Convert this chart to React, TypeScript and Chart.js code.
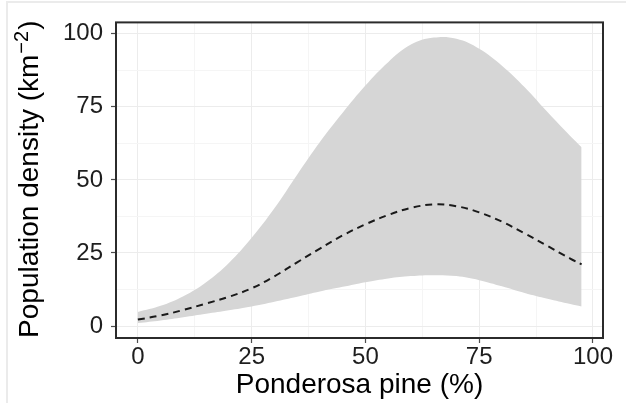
import React, { useEffect, useRef } from 'react';
import { Chart, registerables } from 'chart.js';

Chart.register(...registerables);

// ---- data ----
const pinePct = [0, 5, 10, 15, 20, 25, 30, 35, 40, 45, 50, 55, 60, 65, 70, 75, 80, 85, 90, 95, 97.5];
const upperBound = [4.8, 6.9, 10.2, 15.0, 21.6, 30.2, 40.3, 51.8, 63.0, 73.0, 82.3, 90.3, 96.3, 98.7, 98.3, 94.9, 89.1, 81.7, 73.2, 65.0, 61.2];
const meanDensity = [2.2, 3.6, 5.5, 7.7, 10.0, 12.9, 17.0, 21.8, 26.5, 31.0, 34.8, 38.0, 40.4, 41.6, 41.0, 38.9, 35.7, 31.7, 27.4, 23.1, 21.1];
const lowerBound = [1.0, 1.9, 3.0, 4.2, 5.4, 6.7, 8.3, 10.0, 11.8, 13.4, 15.0, 16.3, 17.1, 17.4, 17.1, 15.7, 13.6, 11.3, 9.3, 7.5, 6.7];

const xTickLabels = [0, 25, 50, 75, 100];
const xMinorTicks = [12.5, 37.5, 62.5, 87.5];
const yTickLabels = [0, 25, 50, 75, 100];
const yMinorTicks = [12.5, 37.5, 62.5, 87.5];

const xTitle = 'Ponderosa pine (%)';
const yTitleMain = 'Population density (km';
const yTitleSup = '\u22122';
const yTitleEnd = ')';

const FONT = '"Liberation Sans", Arial, Helvetica, sans-serif';

const toPoints = (ys: number[]) => pinePct.map((x, i) => ({ x, y: ys[i] }));

const framePlugin = {
  id: 'panelFrame',
  afterDatasetsDraw(chart: any) {
    const { ctx, chartArea } = chart;
    ctx.save();
    ctx.strokeStyle = '#2b2b2b';
    ctx.lineWidth = 2;
    ctx.strokeRect(chartArea.left, chartArea.top, chartArea.right - chartArea.left, chartArea.bottom - chartArea.top);
    ctx.restore();
  },
};

const titlePlugin = {
  id: 'axisTitles',
  afterDraw(chart: any) {
    const { ctx, chartArea } = chart;
    ctx.save();
    ctx.fillStyle = '#000';
    ctx.textBaseline = 'alphabetic';
    // x title
    ctx.font = `28px ${FONT}`;
    ctx.textAlign = 'center';
    ctx.fillText(xTitle, (chartArea.left + chartArea.right) / 2, 392.5);
    // y title with superscript
    const cy = (chartArea.top + chartArea.bottom) / 2;
    ctx.translate(38, cy);
    ctx.rotate(-Math.PI / 2);
    ctx.textAlign = 'left';
    ctx.font = `28px ${FONT}`;
    const w1 = ctx.measureText(yTitleMain).width;
    const w3 = ctx.measureText(yTitleEnd).width;
    ctx.font = `20px ${FONT}`;
    const w2 = ctx.measureText(yTitleSup).width;
    const start = -(w1 + w2 + w3) / 2;
    ctx.font = `28px ${FONT}`;
    ctx.fillText(yTitleMain, start, 0);
    ctx.font = `20px ${FONT}`;
    ctx.fillText(yTitleSup, start + w1 + 1, -10);
    ctx.font = `28px ${FONT}`;
    ctx.fillText(yTitleEnd, start + w1 + w2 + 2, 0);
    ctx.restore();
  },
};

function axisOptions(majors: number[], minors: number[], min: number, max: number, isX: boolean) {
  const all = [...majors, ...minors].sort((a, b) => a - b);
  return {
    type: 'linear' as const,
    min,
    max,
    afterFit(scale: any) {
      if (isX) scale.height = 65;
      else scale.width = 116;
    },
    afterBuildTicks(scale: any) {
      scale.ticks = all.map((v) => ({ value: v }));
    },
    border: { display: false },
    grid: {
      color: (c: any) => (c.tick && majors.includes(c.tick.value) ? '#ececec' : '#f5f5f5'),
      lineWidth: 1,
      drawTicks: true,
      tickLength: 5,
      tickWidth: 1.2,
      tickColor: (c: any) => (c.tick && majors.includes(c.tick.value) ? '#4d4d4d' : 'rgba(0,0,0,0)'),
    },
    ticks: {
      autoSkip: false,
      maxRotation: 0,
      minRotation: 0,
      padding: isX ? 0 : 8,
      color: '#1e1e1e',
      font: { size: 24, family: FONT },
      callback: (v: any) => (majors.includes(Number(v)) ? String(v) : ''),
    },
  };
}

export default function App() {
  const canvasRef = useRef<HTMLCanvasElement | null>(null);

  useEffect(() => {
    if (!canvasRef.current) return;
    const chart = new Chart(canvasRef.current, {
      type: 'line',
      data: {
        datasets: [
          {
            label: 'upper',
            data: toPoints(upperBound),
            borderWidth: 0,
            borderColor: 'rgba(0,0,0,0)',
            backgroundColor: '#d6d6d6',
            fill: '+1',
            pointRadius: 0,
            tension: 0.4,
            order: 2,
          },
          {
            label: 'lower',
            data: toPoints(lowerBound),
            borderWidth: 0,
            borderColor: 'rgba(0,0,0,0)',
            backgroundColor: '#d6d6d6',
            fill: false,
            pointRadius: 0,
            tension: 0.4,
            order: 2,
          },
          {
            label: 'mean',
            data: toPoints(meanDensity),
            borderWidth: 2,
            borderColor: '#1a1a1a',
            borderDash: [7, 5],
            fill: false,
            pointRadius: 0,
            tension: 0.4,
            order: 0,
          },
        ],
      },
      options: {
        animation: false,
        responsive: false,
        maintainAspectRatio: false,
        layout: { padding: { top: 21, right: 23, left: 0, bottom: 0 } },
        plugins: { legend: { display: false }, tooltip: { enabled: false } },
        scales: {
          x: axisOptions(xTickLabels, xMinorTicks, -4.8, 102.2, true),
          y: axisOptions(yTickLabels, yMinorTicks, -4.1, 103.9, false),
        },
      } as any,
      plugins: [framePlugin, titlePlugin],
    });
    return () => chart.destroy();
  }, []);

  return (
    <div style={{ position: 'fixed', left: 0, top: 0, width: 626, height: 403, background: '#fff', overflow: 'hidden' }}>
      <div
        style={{
          position: 'absolute',
          left: 6,
          top: 1,
          width: 700,
          height: 500,
          borderLeft: '2px solid #ebebeb',
          borderTop: '2px solid #ebebeb',
        }}
      />
      <canvas ref={canvasRef} width={626} height={403} style={{ position: 'absolute', left: 0, top: 0, display: 'block' }} />
    </div>
  );
}
